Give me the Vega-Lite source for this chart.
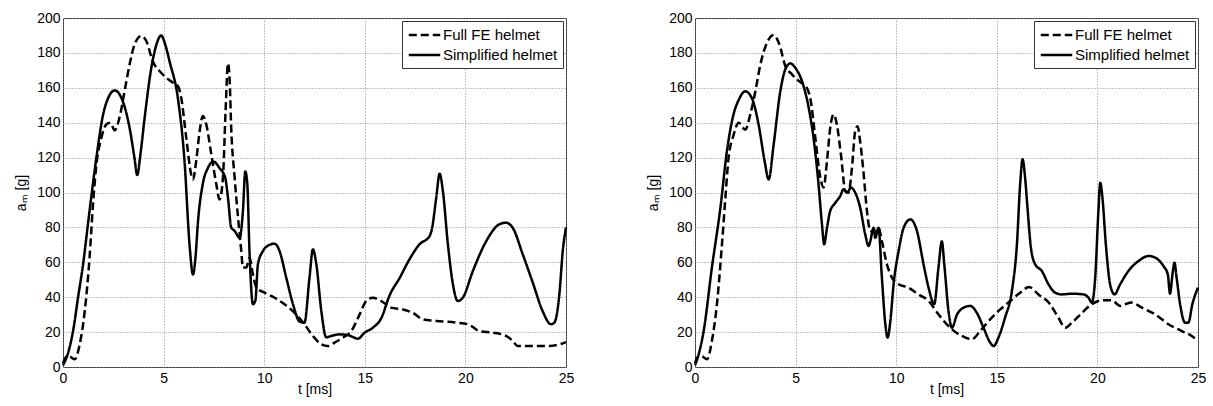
{
  "$schema": "https://vega.github.io/schema/vega-lite/v6.json",
  "padding": {"left": 14, "top": 10, "right": 5, "bottom": 5},
  "background": "white",
  "spacing": 71,
  "datasets": {
    "LS": [{"t":0,"a":1},{"t":0.25,"a":8},{"t":0.5,"a":20.6},{"t":0.75,"a":40},{"t":1.0,"a":59},{"t":1.2,"a":78},{"t":1.4,"a":97},{"t":1.66,"a":120},{"t":2.0,"a":145},{"t":2.24,"a":154},{"t":2.57,"a":158.5},{"t":2.98,"a":152},{"t":3.31,"a":137},{"t":3.55,"a":120},{"t":3.69,"a":110},{"t":3.85,"a":122},{"t":4.06,"a":143},{"t":4.39,"a":171.5},{"t":4.65,"a":185},{"t":4.88,"a":190},{"t":5.1,"a":184},{"t":5.3,"a":175},{"t":5.71,"a":154},{"t":6.04,"a":118},{"t":6.29,"a":70},{"t":6.46,"a":53},{"t":6.6,"a":65},{"t":6.7,"a":82},{"t":6.95,"a":105},{"t":7.2,"a":114},{"t":7.48,"a":117.7},{"t":7.78,"a":114},{"t":8.06,"a":108.5},{"t":8.2,"a":97},{"t":8.36,"a":80},{"t":8.53,"a":78},{"t":8.78,"a":74},{"t":8.94,"a":89},{"t":9.06,"a":112},{"t":9.16,"a":105},{"t":9.27,"a":66},{"t":9.44,"a":36},{"t":9.56,"a":38},{"t":9.69,"a":59},{"t":9.94,"a":66.5},{"t":10.27,"a":70},{"t":10.52,"a":70.7},{"t":10.76,"a":66.5},{"t":11.1,"a":51},{"t":11.43,"a":36},{"t":11.76,"a":26},{"t":12.0,"a":25.4},{"t":12.25,"a":51},{"t":12.42,"a":67.4},{"t":12.59,"a":59},{"t":12.84,"a":32},{"t":13.08,"a":17},{"t":13.33,"a":17.8},{"t":13.74,"a":18.7},{"t":14.16,"a":18.3},{"t":14.4,"a":17.2},{"t":14.66,"a":16.2},{"t":14.99,"a":19.7},{"t":15.4,"a":22.5},{"t":15.82,"a":28},{"t":16.23,"a":41},{"t":16.73,"a":51},{"t":17.22,"a":61.7},{"t":17.72,"a":70.3},{"t":18.22,"a":75},{"t":18.35,"a":80},{"t":18.55,"a":97},{"t":18.72,"a":110.8},{"t":18.88,"a":100.9},{"t":19.13,"a":70.3},{"t":19.38,"a":47.4},{"t":19.62,"a":37.8},{"t":19.87,"a":39.7},{"t":20.37,"a":55},{"t":21.03,"a":72},{"t":21.69,"a":81.8},{"t":22.02,"a":82.7},{"t":22.35,"a":79.8},{"t":22.85,"a":64.6},{"t":23.35,"a":48.3},{"t":23.84,"a":32},{"t":24.25,"a":24.5},{"t":24.42,"a":25.4},{"t":24.67,"a":41.6},{"t":24.84,"a":66.5},{"t":25,"a":80}],
    "LF": [{"t":0,"a":2},{"t":0.08,"a":4.4},{"t":0.25,"a":6.5},{"t":0.58,"a":4.4},{"t":0.83,"a":13},{"t":1.08,"a":32},{"t":1.32,"a":62.7},{"t":1.49,"a":93},{"t":1.66,"a":116},{"t":1.9,"a":131},{"t":2.15,"a":139},{"t":2.35,"a":140},{"t":2.57,"a":135.6},{"t":2.81,"a":143},{"t":3.06,"a":158},{"t":3.31,"a":173.4},{"t":3.56,"a":185},{"t":3.89,"a":189.7},{"t":4.14,"a":186.8},{"t":4.47,"a":175},{"t":4.8,"a":169.6},{"t":5.13,"a":165.8},{"t":5.46,"a":163},{"t":5.71,"a":161},{"t":5.88,"a":154},{"t":6.13,"a":131},{"t":6.37,"a":110.4},{"t":6.46,"a":107.5},{"t":6.62,"a":118},{"t":6.79,"a":135},{"t":6.95,"a":143.8},{"t":7.12,"a":139},{"t":7.37,"a":122},{"t":7.62,"a":104.7},{"t":7.78,"a":96},{"t":7.95,"a":108.5},{"t":8.08,"a":146.7},{"t":8.2,"a":174},{"t":8.28,"a":165},{"t":8.36,"a":137},{"t":8.53,"a":108.5},{"t":8.7,"a":85.6},{"t":8.86,"a":66.5},{"t":8.94,"a":57},{"t":9.11,"a":57},{"t":9.27,"a":62.6},{"t":9.44,"a":53},{"t":9.61,"a":45.5},{"t":10.02,"a":42.6},{"t":10.52,"a":39.7},{"t":11.01,"a":36},{"t":11.51,"a":31},{"t":12.0,"a":24.5},{"t":12.42,"a":17.8},{"t":12.84,"a":13},{"t":13.17,"a":12},{"t":13.5,"a":14},{"t":13.91,"a":16.8},{"t":14.33,"a":20.6},{"t":14.74,"a":30},{"t":15.07,"a":37.8},{"t":15.4,"a":39.7},{"t":15.82,"a":37.8},{"t":16.31,"a":34},{"t":16.89,"a":33},{"t":17.39,"a":31},{"t":17.88,"a":27.3},{"t":18.55,"a":26.4},{"t":19.54,"a":25.4},{"t":20.12,"a":24.5},{"t":20.7,"a":20.6},{"t":21.37,"a":19.7},{"t":22.02,"a":17.8},{"t":22.35,"a":15},{"t":22.6,"a":12},{"t":23.18,"a":12},{"t":24.17,"a":12},{"t":24.67,"a":13},{"t":25,"a":14.3}],
    "RS": [{"t":0,"a":1},{"t":0.05,"a":2.5},{"t":0.43,"a":20.6},{"t":0.84,"a":57},{"t":1.26,"a":91},{"t":1.59,"a":124},{"t":1.92,"a":145},{"t":2.17,"a":153},{"t":2.5,"a":158},{"t":2.83,"a":154},{"t":3.16,"a":139},{"t":3.46,"a":118},{"t":3.66,"a":107.5},{"t":3.91,"a":127.6},{"t":4.24,"a":158},{"t":4.49,"a":170.6},{"t":4.74,"a":174},{"t":4.98,"a":171.5},{"t":5.31,"a":164},{"t":5.65,"a":148.6},{"t":5.89,"a":131.4},{"t":6.14,"a":104.7},{"t":6.31,"a":81.8},{"t":6.42,"a":70.3},{"t":6.56,"a":79.8},{"t":6.72,"a":89.4},{"t":6.97,"a":94},{"t":7.22,"a":98},{"t":7.38,"a":101.8},{"t":7.55,"a":100},{"t":7.76,"a":102.8},{"t":7.96,"a":100},{"t":8.21,"a":91.3},{"t":8.46,"a":76},{"t":8.63,"a":69.3},{"t":8.71,"a":72},{"t":8.88,"a":79.8},{"t":8.96,"a":74},{"t":9.12,"a":79.8},{"t":9.29,"a":51},{"t":9.46,"a":24.5},{"t":9.57,"a":16.8},{"t":9.71,"a":26.4},{"t":9.87,"a":47.4},{"t":10.12,"a":66.5},{"t":10.37,"a":79.8},{"t":10.7,"a":84.6},{"t":11.03,"a":78},{"t":11.36,"a":58.8},{"t":11.61,"a":45.4},{"t":11.89,"a":36},{"t":12.1,"a":57},{"t":12.27,"a":72},{"t":12.39,"a":58.8},{"t":12.6,"a":32},{"t":12.77,"a":22.5},{"t":13.02,"a":30},{"t":13.35,"a":34},{"t":13.68,"a":35},{"t":14.01,"a":31},{"t":14.34,"a":22.5},{"t":14.67,"a":14},{"t":14.84,"a":12},{"t":15.08,"a":16.8},{"t":15.41,"a":28.3},{"t":15.75,"a":43.6},{"t":16.0,"a":70.3},{"t":16.16,"a":104.7},{"t":16.28,"a":119},{"t":16.41,"a":108},{"t":16.5,"a":95},{"t":16.7,"a":68},{"t":16.91,"a":58.8},{"t":17.24,"a":55},{"t":17.57,"a":47.4},{"t":17.9,"a":42.6},{"t":18.23,"a":41.6},{"t":18.73,"a":42},{"t":19.31,"a":41.6},{"t":19.56,"a":39.7},{"t":19.72,"a":36.9},{"t":19.89,"a":51},{"t":20.05,"a":89.4},{"t":20.14,"a":105.6},{"t":20.25,"a":97},{"t":20.42,"a":70.3},{"t":20.63,"a":47.4},{"t":20.85,"a":41.6},{"t":21.13,"a":47.4},{"t":21.54,"a":55},{"t":22.04,"a":60.7},{"t":22.54,"a":63.6},{"t":22.87,"a":62.7},{"t":23.28,"a":57.9},{"t":23.5,"a":53},{"t":23.61,"a":42},{"t":23.73,"a":53},{"t":23.83,"a":59.8},{"t":23.94,"a":51},{"t":24.11,"a":36},{"t":24.36,"a":25.4},{"t":24.52,"a":25.4},{"t":24.72,"a":36},{"t":25,"a":45.5}],
    "RF": [{"t":0,"a":2},{"t":0.1,"a":5.3},{"t":0.31,"a":6.3},{"t":0.6,"a":4.4},{"t":0.84,"a":15},{"t":1.09,"a":36},{"t":1.34,"a":70.3},{"t":1.51,"a":97},{"t":1.67,"a":120},{"t":1.92,"a":133},{"t":2.17,"a":140},{"t":2.5,"a":136},{"t":2.75,"a":144.8},{"t":3.0,"a":158},{"t":3.25,"a":173.4},{"t":3.58,"a":185.9},{"t":3.91,"a":190.3},{"t":4.19,"a":185},{"t":4.49,"a":172.5},{"t":4.82,"a":167.7},{"t":5.15,"a":164},{"t":5.56,"a":160},{"t":5.73,"a":154},{"t":5.98,"a":131.4},{"t":6.23,"a":108.5},{"t":6.39,"a":102.8},{"t":6.56,"a":118},{"t":6.72,"a":137},{"t":6.89,"a":144.8},{"t":7.05,"a":139},{"t":7.27,"a":120},{"t":7.47,"a":100.9},{"t":7.63,"a":99.9},{"t":7.8,"a":114},{"t":7.96,"a":135},{"t":8.08,"a":138},{"t":8.21,"a":129},{"t":8.38,"a":111},{"t":8.54,"a":90},{"t":8.71,"a":78},{"t":8.96,"a":77},{"t":9.12,"a":79.8},{"t":9.29,"a":72.2},{"t":9.54,"a":58.8},{"t":9.79,"a":51.2},{"t":10.12,"a":47.4},{"t":10.61,"a":45.5},{"t":11.11,"a":41.6},{"t":11.61,"a":37.8},{"t":12.1,"a":30.2},{"t":12.68,"a":22.5},{"t":13.26,"a":17.8},{"t":13.76,"a":15.9},{"t":14.17,"a":20.6},{"t":14.67,"a":27.3},{"t":15.17,"a":33},{"t":15.66,"a":37.8},{"t":16.16,"a":42.6},{"t":16.6,"a":45.8},{"t":17.07,"a":41.6},{"t":17.65,"a":36},{"t":18.06,"a":28.3},{"t":18.4,"a":22.5},{"t":18.73,"a":25.4},{"t":19.23,"a":31},{"t":19.72,"a":36},{"t":20.22,"a":38.2},{"t":20.72,"a":38.2},{"t":21.13,"a":35},{"t":21.38,"a":36},{"t":21.71,"a":36.9},{"t":22.21,"a":34},{"t":22.87,"a":30.2},{"t":23.53,"a":24.5},{"t":24.19,"a":20.6},{"t":24.69,"a":17.8},{"t":25,"a":14.9}]
  },
  "resolve": {"legend": {"strokeDash": "independent"}},
  "hconcat": [
    {
      "width": 503, "height": 349,
      "encoding": {
        "x": {"field": "t", "type": "quantitative", "title": "t [ms]", "scale": {"domain": [0, 25], "nice": false}, "axis": {"values": [0, 5, 10, 15, 20, 25]}},
        "y": {"field": "a", "type": "quantitative", "title": "aₘ [g]", "scale": {"domain": [0, 200], "nice": false}, "axis": {"values": [0, 20, 40, 60, 80, 100, 120, 140, 160, 180, 200]}}
      },
      "layer": [
        {"data": {"name": "LF"}, "mark": {"type": "line", "interpolate": "monotone", "color": "black", "strokeWidth": 2.5},
         "encoding": {"strokeDash": {"datum": "Full FE helmet", "type": "nominal", "scale": {"domain": ["Full FE helmet", "Simplified helmet"], "range": [[8, 4], [1, 0]]}, "legend": {"title": null}}}},
        {"data": {"name": "LS"}, "mark": {"type": "line", "interpolate": "monotone", "color": "black", "strokeWidth": 2.5},
         "encoding": {"strokeDash": {"datum": "Simplified helmet", "type": "nominal"}}}
      ]
    },
    {
      "width": 503, "height": 349,
      "encoding": {
        "x": {"field": "t", "type": "quantitative", "title": "t [ms]", "scale": {"domain": [0, 25], "nice": false}, "axis": {"values": [0, 5, 10, 15, 20, 25]}},
        "y": {"field": "a", "type": "quantitative", "title": "aₘ [g]", "scale": {"domain": [0, 200], "nice": false}, "axis": {"values": [0, 20, 40, 60, 80, 100, 120, 140, 160, 180, 200]}}
      },
      "layer": [
        {"data": {"name": "RF"}, "mark": {"type": "line", "interpolate": "monotone", "color": "black", "strokeWidth": 2.5},
         "encoding": {"strokeDash": {"datum": "Full FE helmet", "type": "nominal", "scale": {"domain": ["Full FE helmet", "Simplified helmet"], "range": [[8, 4], [1, 0]]}, "legend": {"title": null}}}},
        {"data": {"name": "RS"}, "mark": {"type": "line", "interpolate": "monotone", "color": "black", "strokeWidth": 2.5},
         "encoding": {"strokeDash": {"datum": "Simplified helmet", "type": "nominal"}}}
      ]
    }
  ],
  "config": {
    "font": "Liberation Sans",
    "view": {"stroke": "#333", "strokeWidth": 1},
    "axis": {
      "labelFont": "Liberation Sans", "labelFontSize": 14, "labelColor": "#000", "labelFlush": false, "labelPadding": 3,
      "titleFont": "Liberation Sans", "titleFontSize": 14, "titleFontWeight": "normal", "titleColor": "#000",
      "grid": true, "gridColor": "#888", "gridDash": [1, 2], "gridWidth": 1, "gridOpacity": 1,
      "domain": false, "ticks": false
    },
    "axisX": {"titlePadding": -3, "labelPadding": 4},
    "axisY": {"titlePadding": 8},
    "legend": {
      "orient": "top-right", "offset": 3, "strokeColor": "#333", "fillColor": "white", "padding": 5,
      "labelFont": "Liberation Sans", "labelFontSize": 15, "labelColor": "#000", "labelOffset": 9.5,
      "symbolType": "M-2.1,0H2.1", "symbolSize": 225, "symbolOffset": 8.5, "symbolStrokeWidth": 2.5,
      "symbolStrokeColor": "black", "symbolFillColor": "transparent", "rowPadding": 3, "cornerRadius": 0
    }
  }
}
